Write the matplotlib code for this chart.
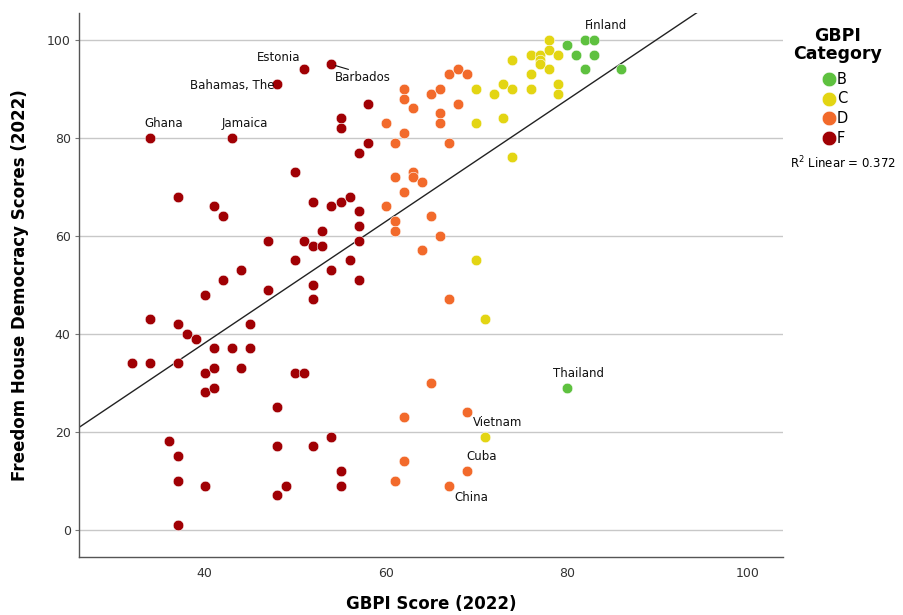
import numpy as np
import matplotlib
matplotlib.use("Agg")
import matplotlib.pyplot as plt
from matplotlib.lines import Line2D

# GBPI score (x) and Freedom House democracy score (y), grouped by GBPI category
gbpi_B = [80, 81, 82, 83, 83, 82, 86, 80]
fh_B   = [99, 97, 100, 100, 97, 94, 94, 29]

gbpi_C = [74, 76, 77, 77, 77, 78, 78, 79, 78, 76, 76, 79, 79, 70, 72, 73, 74, 73, 70, 74, 70, 71, 71]
fh_C   = [96, 97, 97, 96, 95, 100, 98, 97, 94, 93, 90, 91, 89, 90, 89, 91, 90, 84, 83, 76, 55, 43, 19]

gbpi_D = [62, 62, 63, 60, 62, 61, 65, 66, 67, 68, 69, 68, 66, 66, 67, 63, 63, 64, 61, 62,
          60, 61, 61, 65, 66, 64, 67, 65, 62, 69, 62, 69, 61, 67]
fh_D   = [90, 88, 86, 83, 81, 79, 89, 90, 93, 94, 93, 87, 85, 83, 79, 73, 72, 71, 72, 69,
          66, 63, 61, 64, 60, 57, 47, 30, 23, 24, 14, 12, 10, 9]

gbpi_F = [34, 43, 48, 51, 54, 58, 55, 55, 58, 57, 50, 37, 41, 42, 52, 54, 55, 56, 57, 57,
          53, 47, 51, 52, 53, 57, 50, 56, 54, 44, 42, 57, 52, 52, 40, 47, 34, 37, 45, 38,
          39, 41, 43, 45, 32, 34, 37, 40, 41, 44, 50, 51, 40, 41, 48, 36, 37, 37, 40, 37,
          48, 52, 54, 55, 55, 49, 48]
fh_F   = [80, 80, 91, 94, 95, 87, 84, 82, 79, 77, 73, 68, 66, 64, 67, 66, 67, 68, 65, 62,
          61, 59, 59, 58, 58, 59, 55, 55, 53, 53, 51, 51, 50, 47, 48, 49, 43, 42, 42, 40,
          39, 37, 37, 37, 34, 34, 34, 32, 33, 33, 32, 32, 28, 29, 25, 18, 15, 10, 9, 1,
          17, 17, 19, 12, 9, 9, 7]

categories = ["B", "C", "D", "F"]
colors = {"B": "#5EC13F", "C": "#E3D513", "D": "#F26A2B", "F": "#A00004"}
series = {"B": (gbpi_B, fh_B), "C": (gbpi_C, fh_C), "D": (gbpi_D, fh_D), "F": (gbpi_F, fh_F)}

# Labelled countries: name, x, y, offset in pixels, horizontal alignment
labels = [
    ("Finland", 83, 100, (-9, 14), "left"),
    ("Estonia", 51, 94, (-4, 12), "right"),
    ("Bahamas, The", 48, 91, (-3, -2), "right"),
    ("Barbados", 54, 95, (3, -13), "left"),
    ("Ghana", 34, 80, (-6, 14), "left"),
    ("Jamaica", 43, 80, (-10, 14), "left"),
    ("Thailand", 80, 29, (-14, 14), "left"),
    ("Vietnam", 71, 19, (-12, 14), "left"),
    ("Cuba", 69, 12, (-1, 14), "left"),
    ("China", 67, 9, (5, -12), "left"),
]
r2_text = "0.372"

fig = plt.figure(figsize=(9.04, 6.15), dpi=100)
ax = fig.add_axes([79 / 904, 1 - 557 / 615, (783 - 79) / 904, (557 - 13) / 615])

ax.set_xlim(26.1, 103.9)
ax.set_ylim(-5.6, 105.5)
ax.set_xticks([40, 60, 80, 100])
ax.set_yticks([0, 20, 40, 60, 80, 100])
ax.yaxis.grid(True, color="#C8C8C8", linewidth=1.0)
ax.set_axisbelow(True)
for s in ("top", "right"):
    ax.spines[s].set_visible(False)
for s in ("left", "bottom"):
    ax.spines[s].set_color("#555555")
    ax.spines[s].set_linewidth(1.0)
ax.tick_params(axis="x", length=0, pad=7, labelsize=9, labelcolor="#333333")
ax.tick_params(axis="y", length=3, width=0.8, color="#777777", pad=3, labelsize=9, labelcolor="#333333")

label_family = ["Liberation Sans Narrow", "DejaVu Sans"]
ax.set_xlabel("GBPI Score (2022)", fontsize=12, fontweight="bold", family=label_family, labelpad=11)
ax.set_ylabel("Freedom House Democracy Scores (2022)", fontsize=12, fontweight="bold",
              family=label_family, labelpad=13)

for cat in categories:
    xs, ys = series[cat]
    ax.scatter(xs, ys, s=58, color=colors[cat], edgecolors="white", linewidths=0.4, zorder=3)

# Linear fit over all countries
all_x = np.concatenate([series[c][0] for c in categories]).astype(float)
all_y = np.concatenate([series[c][1] for c in categories]).astype(float)
slope, intercept = np.polyfit(all_x, all_y, 1)
xl = np.array([20.0, 110.0])
ax.plot(xl, slope * xl + intercept, color="#222222", linewidth=1.0, zorder=2)

for name, x, y, off, ha in labels:
    ax.annotate(name, (x, y), xytext=off, textcoords="offset pixels", ha=ha, va="center",
                fontsize=8.5, color="#111111", zorder=4)
# leader line for Barbados
ax.annotate("", xy=(54, 95), xytext=(17, -5), textcoords="offset pixels",
            arrowprops=dict(arrowstyle="-", color="#111111", lw=0.8, shrinkA=0, shrinkB=3))

# Legend
fig.text(838 / 904, 1 - 45 / 615, "GBPI\nCategory", ha="center", va="center",
         fontsize=12.5, fontweight="bold", linespacing=0.95)
for i, cat in enumerate(categories):
    yy = 1 - (79 + i * 19.7) / 615
    fig.add_artist(Line2D([829 / 904], [yy], marker="o", markersize=10.5, color=colors[cat],
                          markeredgecolor="white", markeredgewidth=0.4, linestyle="none",
                          transform=fig.transFigure))
    fig.text(837 / 904, yy, cat, ha="left", va="center", fontsize=10.5)
fig.text(843 / 904, 1 - 163 / 615, r"R$^2$ Linear = " + r2_text, ha="center", va="center",
         fontsize=8.5)

fig.savefig("out.png", dpi=100)
